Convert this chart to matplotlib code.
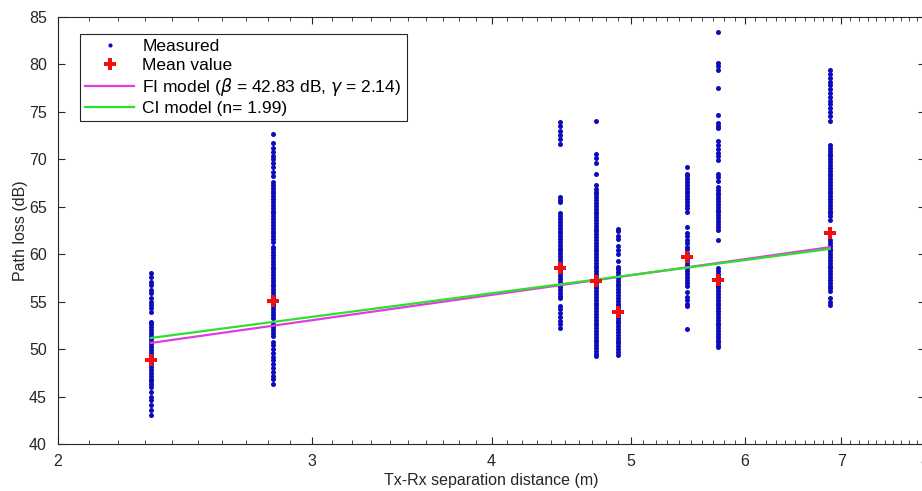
import matplotlib
matplotlib.use("Agg")
import matplotlib.pyplot as plt
import numpy as np
from matplotlib.ticker import FixedLocator, FixedFormatter, NullFormatter

plt.rcParams["font.family"] = ["Liberation Sans", "DejaVu Sans"]

# Tx-Rx distances (m)
DIST = [2.32, 2.82, 4.46, 4.73, 4.90, 5.47, 5.75, 6.87]

# measured path loss per distance (dB)
PL_232 = [58.0, 57.6, 57.1, 56.8, 56.2, 55.9, 55.4, 55.0, 54.7, 54.3, 53.9,
          52.9, 52.6, 52.3, 52.0, 51.7, 51.4, 51.1, 50.8, 50.5, 50.2, 49.9,
          49.6, 49.3, 49.0, 48.7, 48.4, 48.1, 47.8, 47.5, 47.2, 46.9, 46.6,
          46.3, 46.0, 45.5, 45.0, 44.6, 44.1, 43.6, 43.1]
PL_282 = [72.7, 71.7, 71.2, 70.8, 70.3, 70.0, 69.6, 69.2, 68.7, 68.2, 67.6,
          67.3, 67.0, 66.7, 66.4, 66.1, 65.8, 65.5, 65.2, 64.9, 64.6, 64.3,
          64.0, 63.7, 63.4, 63.1, 62.8, 62.5, 62.2, 61.9, 61.6, 61.3, 60.8,
          60.5, 60.2, 59.9, 59.6, 59.3, 59.0, 58.7, 58.4, 58.1, 57.8, 57.5,
          57.2, 56.9, 56.6, 56.3, 56.0, 55.7, 55.4, 55.1, 54.8, 54.5, 54.2,
          53.9, 53.6, 53.3, 52.6, 52.3, 52.0, 51.7, 51.4, 50.8, 50.4, 50.0,
          49.6, 49.2, 48.8, 48.4, 48.0, 47.6, 47.2, 46.8, 46.3]
PL_446 = [73.9, 73.5, 73.0, 72.6, 72.1, 71.6, 66.0, 65.7, 65.5,
          64.3, 64.0, 63.7, 63.4, 63.1, 62.8, 62.5, 62.2, 61.9, 61.6, 61.3,
          61.0, 60.7, 60.4, 60.1, 59.8, 59.5, 59.2, 58.9, 58.6, 58.3, 58.0,
          57.7, 57.4, 57.1, 56.8, 56.5, 56.2, 55.9, 55.6, 55.35,
          54.5, 54.2, 53.8, 53.4, 53.0, 52.6, 52.2]
PL_473 = [74.0, 70.6, 70.1, 69.6, 68.5, 67.3,
          66.9, 66.6, 66.3, 66.0, 65.7, 65.4, 65.1, 64.8, 64.5, 64.2, 63.9,
          63.6, 63.3, 63.0, 62.7, 62.4, 62.1, 61.8, 61.5, 61.2, 60.9, 60.6,
          60.3, 60.0, 59.7, 59.4, 59.1, 58.8, 58.5, 58.2, 57.9, 57.6, 57.3,
          57.0, 56.7, 56.4, 56.1, 55.8, 55.5, 55.2, 54.9, 54.6, 54.3, 54.0,
          53.7, 53.4, 53.1, 52.8, 52.5, 52.2, 51.9, 51.6, 51.3, 51.0, 50.7,
          50.4, 50.1, 49.8, 49.5, 49.3]
PL_490 = [62.7, 62.4, 61.9, 61.6, 60.9, 60.4, 60.0, 59.3, 58.7,
          58.4, 58.1, 57.8, 57.5, 57.2, 56.9, 56.6, 56.3, 56.0, 55.7, 55.4,
          55.1, 54.8, 54.5, 54.2, 53.9, 53.6, 53.3, 53.0, 52.7, 52.4, 52.1,
          51.8, 51.5, 51.2, 50.9, 50.6, 50.3, 50.0, 49.7, 49.4]
PL_547 = [69.2, 68.5, 68.2, 67.9, 67.6, 67.3, 67.0, 66.7, 66.4, 66.1, 65.8,
          65.5, 65.2, 64.9, 64.5, 62.9, 62.2, 61.9, 61.5, 61.2, 60.8, 60.5,
          60.1, 59.8, 59.5, 59.2, 58.9, 58.6, 58.2, 57.9, 57.6, 57.3, 57.0,
          56.6, 56.0, 55.5, 55.2, 54.8, 54.5, 52.1]
PL_575 = [83.4, 80.1, 79.8, 79.4, 77.5, 74.7, 73.8, 73.5, 73.3, 71.9, 71.5,
          71.1, 70.7, 70.3, 69.9, 68.5, 68.1, 67.7, 67.1, 66.8, 66.5, 66.2,
          65.9, 65.6, 65.3, 65.0, 64.7, 64.4, 64.1, 63.8, 63.5, 63.2, 62.9,
          62.6, 61.5,
          58.5, 58.2, 57.9, 57.6, 57.3, 57.0, 56.7, 56.4, 56.1, 55.8, 55.5,
          55.2, 54.9, 54.6, 54.3, 54.0, 53.7, 53.4, 53.1, 52.8, 52.5, 52.2,
          51.9, 51.6, 51.3, 51.0, 50.7, 50.4, 50.2]
PL_687 = [79.4, 79.0, 78.6, 78.2, 77.8, 77.4, 77.0, 76.6, 76.2, 75.8, 75.4,
          75.0, 74.6, 74.0,
          71.5, 71.2, 70.9, 70.6, 70.3, 70.0, 69.7, 69.4, 69.1, 68.8, 68.5,
          68.2, 67.9, 67.6, 67.3, 67.0, 66.7, 66.4, 66.1, 65.8, 65.5, 65.2,
          64.9, 64.6, 64.3, 64.0, 63.6,
          61.5, 61.2, 60.9, 60.6, 60.3, 60.0, 59.7, 59.4, 59.1, 58.8, 58.5,
          58.2, 57.9, 57.6, 57.3, 57.0, 56.7, 56.4, 56.1, 55.4, 55.0, 54.6]
MEASURED = [PL_232, PL_282, PL_446, PL_473, PL_490, PL_547, PL_575, PL_687]

MEAN_PL = [48.8, 55.1, 58.6, 57.2, 53.9, 59.7, 57.3, 62.2]

# model parameters
FI_BETA = 42.83
FI_GAMMA = 2.14
CI_FSPL = 43.9
CI_N = 1.99

FI_LABEL = r"FI model ($\beta$ = 42.83 dB, $\gamma$ = 2.14)"
CI_LABEL = "CI model (n= 1.99)"

fig = plt.figure(figsize=(9.22, 4.91), dpi=100)
ax = fig.add_axes([58/922, 47/491, 867/922, 427/491])

dot_color = "#0c0cbe"
h_meas = None
for d, vals in zip(DIST, MEASURED):
    h, = ax.plot([d]*len(vals), vals, "o", color=dot_color, ms=3.6, mew=0, zorder=2)
    h_meas = h_meas or h

d_fit = np.array([min(DIST), max(DIST)])
h_fi, = ax.plot(d_fit, FI_BETA + 10*FI_GAMMA*np.log10(d_fit), color="#e03ce0",
                lw=1.6, zorder=3)
h_ci, = ax.plot(d_fit, CI_FSPL + 10*CI_N*np.log10(d_fit), color="#2ee02e",
                lw=1.6, zorder=3)
h_mean, = ax.plot(DIST, MEAN_PL, "P", color="#f01010", ms=8.5, mew=0, ls="none",
                  zorder=4)

ax.set_xscale("log")
ax.set_xlim(2, 8)
ax.set_ylim(40, 85)
ax.xaxis.set_major_locator(FixedLocator([2, 3, 4, 5, 6, 7, 8]))
ax.xaxis.set_major_formatter(FixedFormatter(["2", "3", "4", "5", "6", "7", "8"]))
ax.xaxis.set_minor_locator(FixedLocator(np.arange(2.1, 8.0, 0.1)))
ax.xaxis.set_minor_formatter(NullFormatter())
ax.set_yticks(np.arange(40, 86, 5))

ax.tick_params(which="both", direction="in", top=True, right=True,
               colors="#262626", labelsize=11.5)
ax.tick_params(axis="x", which="major", length=5, pad=7)
ax.tick_params(axis="y", which="major", length=5, pad=8)
ax.tick_params(which="minor", length=3)
for s in ax.spines.values():
    s.set_color("#262626")
    s.set_linewidth(0.8)

ax.set_xlabel("Tx-Rx separation distance (m)", fontsize=11.5, color="#262626", labelpad=3)
ax.set_ylabel("Path loss (dB)", fontsize=11.5, color="#262626", labelpad=1)

leg = ax.legend([h_meas, h_mean, h_fi, h_ci],
                ["Measured", "Mean value", FI_LABEL, CI_LABEL],
                loc="upper left", bbox_to_anchor=(22/867, 1 - 17/427),
                borderaxespad=0, fontsize=12.5, handlelength=2.8,
                labelspacing=0.18, fancybox=False, framealpha=1,
                edgecolor="#262626", borderpad=0.3, handletextpad=0.5)
leg.get_frame().set_linewidth(0.8)
leg.legend_handles[0].set_markersize(3)

fig.savefig("out.png", dpi=100)
